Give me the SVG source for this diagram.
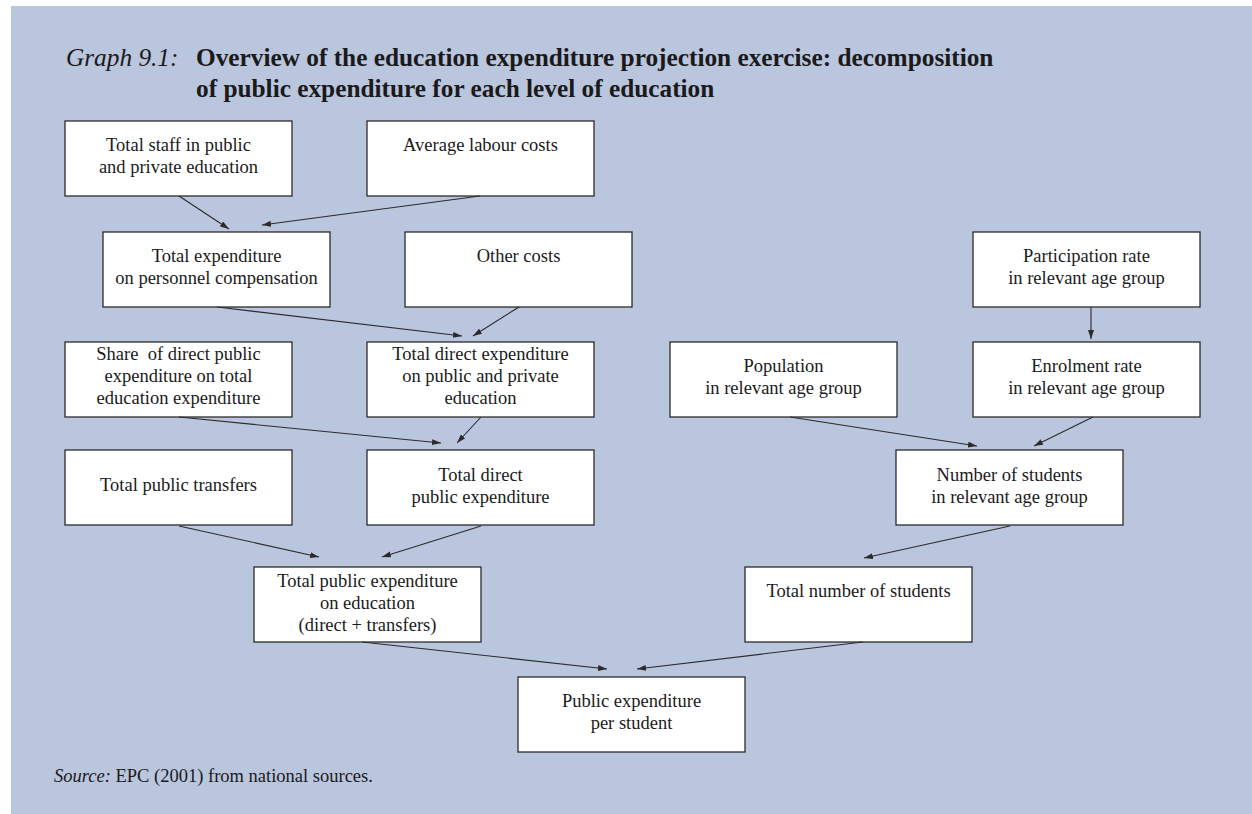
<svg xmlns="http://www.w3.org/2000/svg" width="1252" height="814" viewBox="0 0 1252 814">
<style>
.bx{fill:#ffffff;stroke:#2b2b2b;stroke-width:1.3}
.t{font-family:"Liberation Serif","Times New Roman",serif;font-size:18.5px;fill:#1a1a1a;text-anchor:middle}
.c line{stroke:#2b2b2b;stroke-width:1.1;marker-end:url(#ah)}
.ttl{font-family:"Liberation Serif","Times New Roman",serif;font-size:25.3px;fill:#1a1a1a}
.src{font-family:"Liberation Serif","Times New Roman",serif;font-size:18.5px;fill:#1a1a1a}
</style>
<defs>
<marker id="ah" markerWidth="9" markerHeight="6" refX="9" refY="3" orient="auto" markerUnits="userSpaceOnUse">
<path d="M0,0 L9,3 L0,6 z" fill="#2b2b2b"/>
</marker>
</defs>
<rect x="11" y="6" width="1241" height="808" fill="#bac5de"/>
<text class="ttl" x="66" y="66" font-style="italic" font-size="26">Graph 9.1:</text>
<text class="ttl" x="196" y="66" font-weight="bold">Overview of the education expenditure projection exercise: decomposition</text>
<text class="ttl" x="196" y="97" font-weight="bold">of public expenditure for each level of education</text>

<g id="n1"><rect class="bx" x="65" y="121" width="227" height="75"/><text class="t" x="178.5" y="151">Total staff in public</text><text class="t" x="178.5" y="173">and private education</text></g>
<g id="n2"><rect class="bx" x="367" y="121" width="227" height="75"/><text class="t" x="480.5" y="151">Average labour costs</text></g>
<g id="n3"><rect class="bx" x="103" y="232" width="227" height="75"/><text class="t" x="216.5" y="262">Total expenditure</text><text class="t" x="216.5" y="284">on personnel compensation</text></g>
<g id="n4"><rect class="bx" x="405" y="232" width="227" height="75"/><text class="t" x="518.5" y="262">Other costs</text></g>
<g id="n5"><rect class="bx" x="973" y="232" width="227" height="75"/><text class="t" x="1086.5" y="262">Participation rate</text><text class="t" x="1086.5" y="284">in relevant age group</text></g>
<g id="n6"><rect class="bx" x="65" y="342" width="227" height="75"/><text class="t" x="178.5" y="360" xml:space="preserve">Share  of direct public</text><text class="t" x="178.5" y="382">expenditure on total</text><text class="t" x="178.5" y="404">education expenditure</text></g>
<g id="n7"><rect class="bx" x="367" y="342" width="227" height="75"/><text class="t" x="480.5" y="360">Total direct expenditure</text><text class="t" x="480.5" y="382">on public and private</text><text class="t" x="480.5" y="404">education</text></g>
<g id="n8"><rect class="bx" x="670" y="342" width="227" height="75"/><text class="t" x="783.5" y="372">Population</text><text class="t" x="783.5" y="394">in relevant age group</text></g>
<g id="n9"><rect class="bx" x="973" y="342" width="227" height="75"/><text class="t" x="1086.5" y="372">Enrolment rate</text><text class="t" x="1086.5" y="394">in relevant age group</text></g>
<g id="n10"><rect class="bx" x="65" y="450" width="227" height="75"/><text class="t" x="178.5" y="491">Total public transfers</text></g>
<g id="n11"><rect class="bx" x="367" y="450" width="227" height="75"/><text class="t" x="480.5" y="481">Total direct</text><text class="t" x="480.5" y="503">public expenditure</text></g>
<g id="n12"><rect class="bx" x="896" y="450" width="227" height="75"/><text class="t" x="1009.5" y="481">Number of students</text><text class="t" x="1009.5" y="503">in relevant age group</text></g>
<g id="n13"><rect class="bx" x="254" y="567" width="227" height="75"/><text class="t" x="367.5" y="587">Total public expenditure</text><text class="t" x="367.5" y="609">on education</text><text class="t" x="367.5" y="631">(direct + transfers)</text></g>
<g id="n14"><rect class="bx" x="745" y="567" width="227" height="75"/><text class="t" x="858.5" y="597">Total number of students</text></g>
<g id="n15"><rect class="bx" x="518" y="677" width="227" height="75"/><text class="t" x="631.5" y="707">Public expenditure</text><text class="t" x="631.5" y="729">per student</text></g>

<g id="connectors" class="c">
<line x1="179" y1="196" x2="229" y2="229"/>
<line x1="480" y1="196" x2="262" y2="225"/>
<line x1="217" y1="307" x2="462" y2="336"/>
<line x1="519" y1="307" x2="473" y2="336"/>
<line x1="179" y1="417" x2="441" y2="443"/>
<line x1="481" y1="417" x2="457" y2="443"/>
<line x1="179" y1="526" x2="319" y2="557"/>
<line x1="481" y1="526" x2="382" y2="557"/>
<line x1="362" y1="642" x2="607" y2="669"/>
<line x1="863" y1="642" x2="637" y2="669"/>
<line x1="1091" y1="307" x2="1091" y2="339"/>
<line x1="790" y1="417" x2="977" y2="446"/>
<line x1="1093" y1="417" x2="1034" y2="446"/>
<line x1="1010" y1="526" x2="864" y2="558"/>
</g>
<text class="src" x="54" y="782"><tspan font-style="italic">Source:</tspan> EPC (2001) from national sources.</text>
</svg>
